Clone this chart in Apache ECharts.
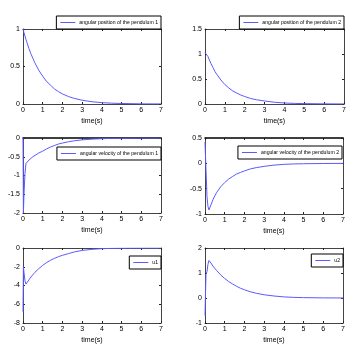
<!DOCTYPE html>
<html><head><meta charset="utf-8">
<script src="https://cdn.jsdelivr.net/npm/echarts@6/dist/echarts.min.js"></script>
<style>html,body{margin:0;padding:0;background:#fff}#c{width:356px;height:352px}</style>
</head><body><div id="c"></div>
<script>
const time = [0, 0.02, 0.05, 0.1, 0.15, 0.2, 0.3, 0.4, 0.5, 0.6, 0.8, 1, 1.2, 1.4, 1.6, 1.8, 2, 2.3, 2.6, 3, 3.5, 4, 4.5, 5, 6, 7];
const pos1 = [1.0, 0.98, 0.95, 0.905, 0.86, 0.82, 0.74, 0.67, 0.61, 0.55, 0.45, 0.37, 0.30, 0.25, 0.20, 0.165, 0.135, 0.10, 0.075, 0.05, 0.03, 0.018, 0.011, 0.007, 0.002, 0.001];
const pos2 = [1.03, 1.04, 1.04, 1.0, 0.95, 0.9, 0.81, 0.73, 0.65, 0.59, 0.48, 0.39, 0.32, 0.26, 0.22, 0.18, 0.15, 0.11, 0.085, 0.06, 0.035, 0.02, 0.012, 0.008, 0.003, 0.001];
const vel1 = [0, -2.0, -1.5, -0.95, -0.68, -0.64, -0.59, -0.54, -0.5, -0.46, -0.40, -0.35, -0.29, -0.24, -0.20, -0.16, -0.135, -0.10, -0.075, -0.05, -0.03, -0.018, -0.011, -0.007, -0.002, -0.001];
const vel2 = [0.42, 0.2, -0.12, -0.65, -0.85, -0.92, -0.82, -0.72, -0.64, -0.57, -0.46, -0.38, -0.31, -0.26, -0.21, -0.18, -0.15, -0.11, -0.085, -0.06, -0.035, -0.02, -0.012, -0.008, -0.003, -0.001];
const u1 = [-6.8, -2.0, -2.6, -3.5, -3.85, -3.7, -3.4, -3.1, -2.85, -2.6, -2.2, -1.85, -1.55, -1.3, -1.1, -0.92, -0.78, -0.6, -0.42, -0.26, -0.14, -0.07, -0.04, -0.02, -0.005, 0];
const u2 = [-0.7, 0.0, 0.95, 1.05, 1.35, 1.5, 1.4, 1.28, 1.18, 1.09, 0.92, 0.78, 0.66, 0.56, 0.47, 0.39, 0.33, 0.25, 0.19, 0.13, 0.08, 0.045, 0.025, 0.015, 0.005, 0.001];
const names = ['angular position of the pendulum 1', 'angular position of the pendulum 2', 'angular velocity of the pendulum 1', 'angular velocity of the pendulum 2', 'u1', 'u2'];
const xTicks = [0, 7, 1];
const yRanges = [[0, 1, 0.5], [0, 1.5, 0.5], [-2, 0, 0.5], [-1, 0.5, 0.5], [-8, 0, 2], [-1, 2, 1]];
const xLabel = 'time(s)';
const seriesVals = [pos1, pos2, vel1, vel2, u1, u2];

const FONT = "'Liberation Sans Narrow', 'Liberation Sans', Arial, sans-serif";
// fit legend font size so the long legend text is ~79px wide, as in the reference
const mctx = document.createElement('canvas').getContext('2d');
mctx.font = "20px " + FONT;
const w20 = mctx.measureText(names[0]).width;
const LEGEND_FS = Math.max(5, Math.min(7.5, 20 * 79 / w20));
const TICK_FS = Math.max(6, Math.min(7.5, LEGEND_FS * 1.0));

const grids = [
  {left: 23, top: 29, width: 138, height: 75},
  {left: 205, top: 29, width: 139, height: 75},
  {left: 23, top: 138, width: 138, height: 75},
  {left: 205, top: 138, width: 138, height: 76},
  {left: 23, top: 248, width: 138, height: 75},
  {left: 205, top: 248, width: 138, height: 75}
];
const legendPos = [
  {right: 195, top: 16}, {right: 12, top: 16},
  {right: 195, top: 147}, {right: 14, top: 146},
  {right: 195, top: 256}, {right: 13, top: 254}
];
const topBlack = [false, false, true, true, false, false];
const LINE = '#5a5aff';
const xAxis = [], yAxis = [], series = [], legend = [];
grids.forEach((g, i) => {
  const bottomAx = {
    type: 'value', gridIndex: i, min: xTicks[0], max: xTicks[1], interval: xTicks[2], position: 'bottom',
    axisLine: {show: true, onZero: false, lineStyle: {color: '#444', width: 1}},
    axisTick: {show: true, inside: true, length: 2, lineStyle: {color: '#222'}},
    axisLabel: {fontSize: 7, color: '#000', fontFamily: FONT, margin: 3},
    splitLine: {show: false},
    name: xLabel, nameLocation: 'middle', nameGap: 14,
    nameTextStyle: {fontSize: 7, color: '#000', fontFamily: FONT}
  };
  const topAx = {
    type: 'value', gridIndex: i, min: xTicks[0], max: xTicks[1], interval: xTicks[2], position: 'top',
    axisLine: {show: true, onZero: false, lineStyle: {color: topBlack[i] ? '#000' : '#444', width: topBlack[i] ? 1.5 : 1}},
    axisTick: {show: true, inside: true, length: 2, lineStyle: {color: '#222'}},
    axisLabel: {show: false}, splitLine: {show: false}
  };
  const yr = yRanges[i];
  const leftAx = {
    type: 'value', gridIndex: i, min: yr[0], max: yr[1], interval: yr[2], position: 'left',
    axisLine: {show: true, onZero: false, lineStyle: {color: '#444', width: 1}},
    axisTick: {show: true, inside: true, length: 2, lineStyle: {color: '#222'}},
    axisLabel: {fontSize: 7, color: '#000', fontFamily: FONT, margin: 3},
    splitLine: {show: false}
  };
  const rightAx = {
    type: 'value', gridIndex: i, min: yr[0], max: yr[1], interval: yr[2], position: 'right',
    axisLine: {show: true, onZero: false, lineStyle: {color: '#444', width: 1}},
    axisTick: {show: true, inside: true, length: 2, lineStyle: {color: '#222'}},
    axisLabel: {show: false}, splitLine: {show: false}
  };
  xAxis.push(bottomAx, topAx);
  yAxis.push(leftAx, rightAx);
  series.push({
    name: names[i], type: 'line', xAxisIndex: 2 * i, yAxisIndex: 2 * i,
    data: time.map((t, k) => [t, seriesVals[i][k]]),
    symbol: 'none', showSymbol: false, lineStyle: {color: LINE, width: 1}, itemStyle: {color: LINE},
    animation: false, z: 3
  });
  legend.push(Object.assign({
    data: [{name: names[i], icon: 'rect'}], orient: 'horizontal',
    backgroundColor: '#fff', borderColor: '#000', borderWidth: 1, borderRadius: 0,
    padding: [2, 3, 2, 4], itemWidth: 15, itemHeight: 1, itemGap: 0,
    itemStyle: {color: LINE, borderWidth: 0},
    textStyle: {fontSize: LEGEND_FS, color: '#000', fontFamily: FONT, lineHeight: 9, padding: [0, 0, 0, -1]},
    selectedMode: false
  }, legendPos[i]));
});
const chart = echarts.init(document.getElementById('c'), null, {renderer: 'canvas'});
chart.setOption({animation: false, backgroundColor: '#fff', grid: grids, xAxis, yAxis, series, legend});
</script></body></html>
